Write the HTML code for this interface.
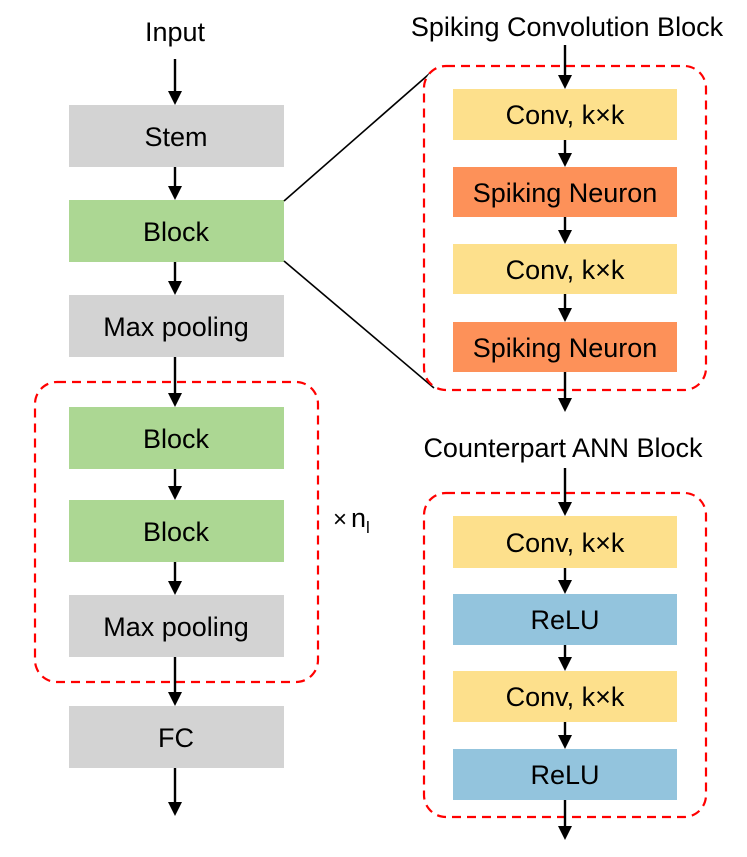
<!DOCTYPE html>
<html><head><meta charset="utf-8"><style>
html,body{margin:0;padding:0;background:#fff;}
svg{display:block;}
text{font-family:"Liberation Sans",Arial,sans-serif;font-size:27px;fill:#000;}
</style></head><body>
<svg width="747" height="857" viewBox="0 0 747 857" xmlns="http://www.w3.org/2000/svg">
<!-- Left column -->
<text x="175" y="41" text-anchor="middle">Input</text>
<rect x="69" y="105" width="215" height="62" fill="#d3d3d3"/>
<text x="176" y="146" text-anchor="middle">Stem</text>
<rect x="69" y="200" width="215" height="62" fill="#acd793"/>
<text x="176" y="241" text-anchor="middle">Block</text>
<rect x="69" y="295" width="215" height="62" fill="#d3d3d3"/>
<text x="176" y="336" text-anchor="middle">Max pooling</text>
<rect x="69" y="407" width="215" height="62" fill="#acd793"/>
<text x="176" y="448" text-anchor="middle">Block</text>
<rect x="69" y="500" width="215" height="62" fill="#acd793"/>
<text x="176" y="541" text-anchor="middle">Block</text>
<rect x="69" y="595" width="215" height="62" fill="#d3d3d3"/>
<text x="176" y="636" text-anchor="middle">Max pooling</text>
<rect x="69" y="706" width="215" height="62" fill="#d3d3d3"/>
<text x="176" y="747" text-anchor="middle">FC</text>
<rect x="35" y="382" width="283" height="300" rx="22" fill="none" stroke="#f00" stroke-width="2.2" stroke-dasharray="9,6"/>
<text x="333" y="527" style="font-size:24px">×</text>
<text x="351" y="527">n</text>
<text x="366" y="533" style="font-size:17px">l</text>
<!-- left arrows -->
<g stroke="#000" stroke-width="2.4">
<line x1="175" y1="59" x2="175" y2="93"/>
<line x1="175" y1="167" x2="175" y2="188"/>
<line x1="175" y1="262" x2="175" y2="283"/>
<line x1="175" y1="357" x2="175" y2="395"/>
<line x1="175" y1="469" x2="175" y2="488"/>
<line x1="175" y1="562" x2="175" y2="583"/>
<line x1="175" y1="657" x2="175" y2="694"/>
<line x1="175" y1="768" x2="175" y2="804"/>
</g>
<g fill="#000">
<path d="M168,91 L182,91 L175,105Z"/>
<path d="M168,186 L182,186 L175,200Z"/>
<path d="M168,281 L182,281 L175,295Z"/>
<path d="M168,393 L182,393 L175,407Z"/>
<path d="M168,486 L182,486 L175,500Z"/>
<path d="M168,581 L182,581 L175,595Z"/>
<path d="M168,692 L182,692 L175,706Z"/>
<path d="M168,802 L182,802 L175,816Z"/>
</g>
<!-- zoom lines -->
<line x1="284" y1="201" x2="436" y2="68" stroke="#000" stroke-width="1.6"/>
<line x1="284" y1="261" x2="434" y2="388" stroke="#000" stroke-width="1.6"/>
<!-- Right top -->
<text x="567" y="36" text-anchor="middle">Spiking Convolution Block</text>
<rect x="424" y="66" width="282" height="324" rx="22" fill="#fff" stroke="#f00" stroke-width="2.2" stroke-dasharray="9,6"/>
<rect x="453" y="89" width="224" height="51" fill="#fde08c"/>
<text x="565" y="124" text-anchor="middle">Conv, k×k</text>
<rect x="453" y="167" width="224" height="50" fill="#fd9159"/>
<text x="565" y="202" text-anchor="middle">Spiking Neuron</text>
<rect x="453" y="244" width="224" height="50" fill="#fde08c"/>
<text x="565" y="279" text-anchor="middle">Conv, k×k</text>
<rect x="453" y="322" width="224" height="50" fill="#fd9159"/>
<text x="565" y="357" text-anchor="middle">Spiking Neuron</text>
<text x="563" y="457" text-anchor="middle">Counterpart ANN Block</text>
<rect x="424" y="493" width="282" height="324" rx="22" fill="none" stroke="#f00" stroke-width="2.2" stroke-dasharray="9,6"/>
<rect x="453" y="516" width="224" height="52" fill="#fde08c"/>
<text x="565" y="552" text-anchor="middle">Conv, k×k</text>
<rect x="453" y="594" width="224" height="51" fill="#93c4dd"/>
<text x="565" y="629" text-anchor="middle">ReLU</text>
<rect x="453" y="671" width="224" height="51" fill="#fde08c"/>
<text x="565" y="706" text-anchor="middle">Conv, k×k</text>
<rect x="453" y="749" width="224" height="51" fill="#93c4dd"/>
<text x="565" y="784" text-anchor="middle">ReLU</text>
<g stroke="#000" stroke-width="2.4">
<line x1="565" y1="45" x2="565" y2="77"/>
<line x1="565" y1="140" x2="565" y2="155"/>
<line x1="565" y1="217" x2="565" y2="232"/>
<line x1="565" y1="294" x2="565" y2="310"/>
<line x1="565" y1="372" x2="565" y2="400"/>
<line x1="565" y1="468" x2="565" y2="504"/>
<line x1="565" y1="568" x2="565" y2="582"/>
<line x1="565" y1="645" x2="565" y2="659"/>
<line x1="565" y1="722" x2="565" y2="737"/>
<line x1="565" y1="800" x2="565" y2="828"/>
</g>
<g fill="#000">
<path d="M558,75 L572,75 L565,89Z"/>
<path d="M558,153 L572,153 L565,167Z"/>
<path d="M558,230 L572,230 L565,244Z"/>
<path d="M558,308 L572,308 L565,322Z"/>
<path d="M558,398 L572,398 L565,412Z"/>
<path d="M558,502 L572,502 L565,516Z"/>
<path d="M558,580 L572,580 L565,594Z"/>
<path d="M558,657 L572,657 L565,671Z"/>
<path d="M558,735 L572,735 L565,749Z"/>
<path d="M558,826 L572,826 L565,840Z"/>
</g>
</svg>
</body></html>
